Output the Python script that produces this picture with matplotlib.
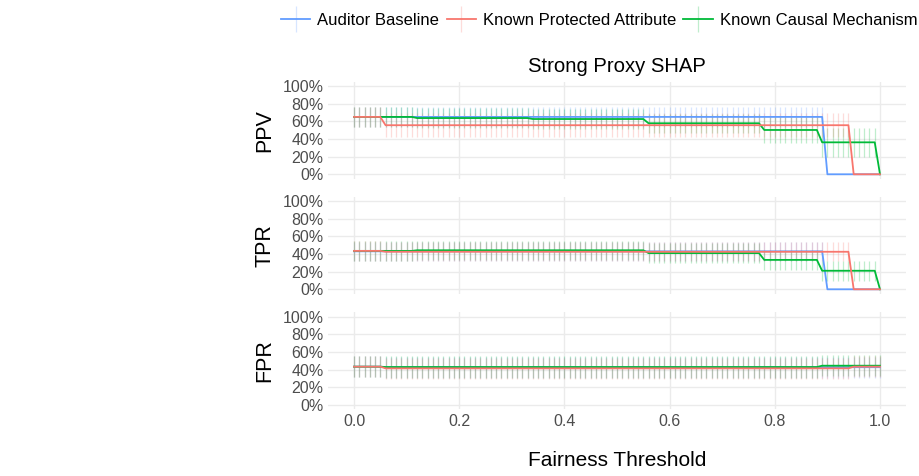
import numpy as np
import matplotlib
matplotlib.use('Agg')
import matplotlib.pyplot as plt
from matplotlib.lines import Line2D
from matplotlib.legend_handler import HandlerTuple

plt.rcParams['font.family'] = ['Liberation Sans', 'DejaVu Sans']

# thresholds 0.00 .. 1.00
thresholds = [round(i * 0.01, 2) for i in range(101)]

series_names = ['Auditor Baseline', 'Known Protected Attribute', 'Known Causal Mechanism']
series_colors = ['#619CFF', '#F8766D', '#00BA38']
metrics = ['PPV', 'TPR', 'FPR']

# PPV values
ppv_base = [0.65] * 90 + [0.0] * 11
ppv_prot = [0.65] * 6 + [0.556] * 89 + [0.0] * 6
ppv_caus = [0.65] * 12 + [0.637] * 22 + [0.626] * 22 + [0.578] * 22 + [0.502] * 11 + [0.362] * 11 + [0.0]
ppv_base_err = [0.11] * 90 + [0.0] * 11
ppv_prot_err = [0.11] * 6 + [0.137] * 89 + [0.0] * 6
ppv_caus_err = [0.11] * 78 + [0.15] * 11 + [0.165] * 11 + [0.0]

# TPR values
tpr_base = [0.43] * 90 + [0.0] * 11
tpr_prot = [0.435] * 6 + [0.425] * 89 + [0.0] * 6
tpr_caus = [0.435] * 12 + [0.442] * 44 + [0.41] * 22 + [0.333] * 11 + [0.21] * 11 + [0.0]
tpr_base_err = [0.11] * 90 + [0.0] * 11
tpr_prot_err = [0.11] * 95 + [0.0] * 6
tpr_caus_err = [0.11] * 89 + [0.115] * 11 + [0.0]

# FPR values
fpr_base = [0.434] * 6 + [0.428] * 95
fpr_prot = [0.434] * 6 + [0.415] * 89 + [0.434] * 6
fpr_caus = [0.434] * 6 + [0.43] * 83 + [0.445] * 12
fpr_base_err = [0.12] * 101
fpr_prot_err = [0.12] * 101
fpr_caus_err = [0.12] * 101

values = {
    'PPV': [ppv_base, ppv_prot, ppv_caus],
    'TPR': [tpr_base, tpr_prot, tpr_caus],
    'FPR': [fpr_base, fpr_prot, fpr_caus],
}
errors = {
    'PPV': [ppv_base_err, ppv_prot_err, ppv_caus_err],
    'TPR': [tpr_base_err, tpr_prot_err, tpr_caus_err],
    'FPR': [fpr_base_err, fpr_prot_err, fpr_caus_err],
}

W, H = 919, 476
fig = plt.figure(figsize=(W / 100, H / 100), dpi=100)

left = 327.7 / W
width = (906.3 - 327.7) / W
panel_px = [(81.6, 178.7), (196.6, 293.7), (312.3, 409.4)]

x = np.array(thresholds)
draw_order = [0, 2, 1]  # blue, green, red on top

for k, metric in enumerate(metrics):
    top, bot = panel_px[k]
    ax = fig.add_axes([left, 1 - bot / H, width, (bot - top) / H])
    # error bars first
    for s in draw_order:
        y = np.array(values[metric][s])
        e = np.array(errors[metric][s])
        m = e > 0
        ax.vlines(x[m], y[m] - e[m], y[m] + e[m], color=series_colors[s],
                  alpha=0.25, linewidth=0.9, zorder=2)
    for s in draw_order:
        ax.plot(x, values[metric][s], color=series_colors[s], linewidth=1.3, zorder=3)

    ax.set_xlim(-0.05, 1.05)
    ax.set_ylim(-0.05, 1.05)
    ax.set_yticks([0, 0.2, 0.4, 0.6, 0.8, 1.0])
    ax.set_yticklabels(['0%', '20%', '40%', '60%', '80%', '100%'])
    ax.set_xticks([0, 0.2, 0.4, 0.6, 0.8, 1.0])
    if k == 2:
        ax.set_xticklabels(['0.0', '0.2', '0.4', '0.6', '0.8', '1.0'])
    else:
        ax.set_xticklabels([])
    ax.tick_params(length=0, labelsize=11.5, labelcolor='#4D4D4D', pad=3)
    ax.grid(True, color='#EBEBEB', linewidth=1.0)
    ax.set_axisbelow(True)
    for sp in ax.spines.values():
        sp.set_visible(False)
    fig.text(265 / W, 1 - (top + bot) / 2 / H, metric, rotation=90, ha='center',
             va='center', fontsize=15.5)

fig.text(617 / W, 1 - 66 / H, 'Strong Proxy SHAP', ha='center', va='center', fontsize=14.6)
fig.text(617 / W, 1 - 461 / H, 'Fairness Threshold', ha='center', va='center', fontsize=15)

handles = []
for c in series_colors:
    h_line = Line2D([], [], color=c, linewidth=1.3)
    h_bar = Line2D([], [], color=c, alpha=0.25, marker='|', markersize=19,
                   linestyle='None', markeredgewidth=0.9)
    handles.append((h_line, h_bar))
fig.legend(handles, series_names, handler_map={tuple: HandlerTuple(ndivide=1)},
           loc='upper left', bbox_to_anchor=(266 / W, 1.005), ncol=3, frameon=False,
           fontsize=12, handlelength=1.75, handletextpad=0.42, columnspacing=0.45)

fig.savefig('out.png', dpi=100)
